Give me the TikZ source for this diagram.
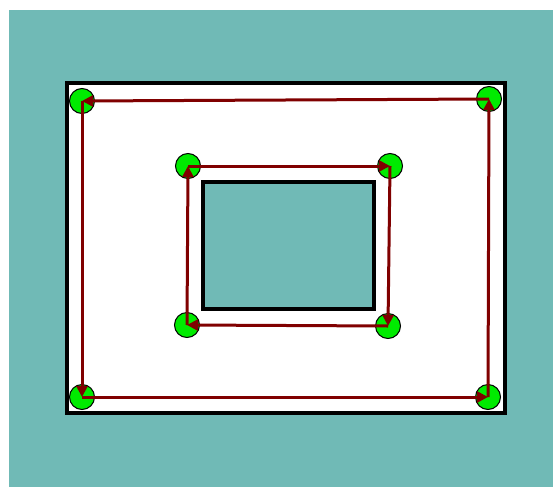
\documentclass[tikz,border=0pt]{standalone}
\usepackage{tikz}
\usetikzlibrary{arrows.meta}
\definecolor{seaTeal}{RGB}{112, 186, 182}
\definecolor{pathRed}{RGB}{128, 0, 0}
\definecolor{dotGreen}{RGB}{0, 235, 0}

\begin{document}
\begin{tikzpicture}[x=1pt, y=-1pt,
    corner/.style={circle, draw=black, line width=1pt, fill=dotGreen, minimum size=25pt, inner sep=0pt},
    flow/.style={pathRed, line width=3pt, -{Triangle[length=11pt, width=11pt]}}]
    \useasboundingbox (0,0) rectangle (553,487);
    \fill[seaTeal] (9,10) rectangle (553,487);
    % outer frame and inner hole
    \draw[black, line width=4pt, fill=white] (67,83) rectangle (505,413);
    \draw[black, line width=4pt, fill=seaTeal] (203,182) rectangle (374,309);
    % outer corners
    \node[corner] (otl) at (82,101) {};
    \node[corner] (otr) at (489,99) {};
    \node[corner] (obl) at (82,397) {};
    \node[corner] (obr) at (488,397) {};
    % inner corners
    \node[corner] (itl) at (188,166) {};
    \node[corner] (itr) at (390,166) {};
    \node[corner] (ibl) at (187,325) {};
    \node[corner] (ibr) at (388,326) {};
    % outer loop
    \draw[flow] (otl.center) -- (obl.center);
    \draw[flow] (obl.center) -- (obr.center);
    \draw[flow] (obr.center) -- (otr.center);
    \draw[flow] (otr.center) -- (otl.center);
    % inner loop
    \draw[flow] (itl.center) -- (itr.center);
    \draw[flow] (itr.center) -- (ibr.center);
    \draw[flow] (ibr.center) -- (ibl.center);
    \draw[flow] (ibl.center) -- (itl.center);
\end{tikzpicture}
\end{document}
